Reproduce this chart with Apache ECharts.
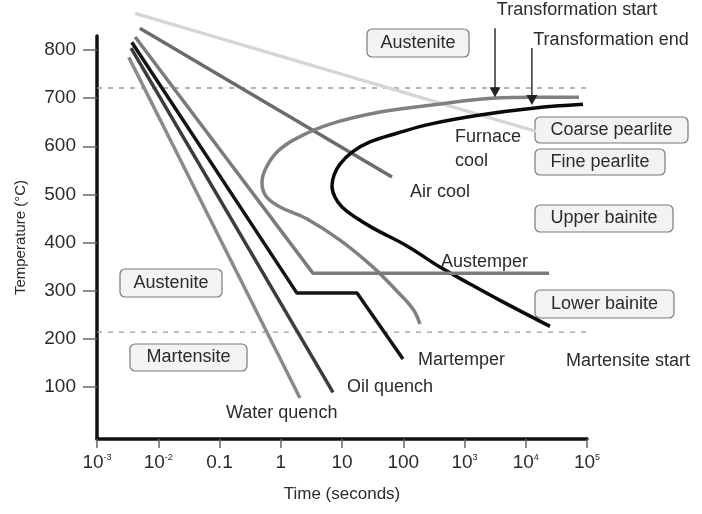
<!DOCTYPE html>
<html lang="en">
<head>
<meta charset="UTF-8">
<title>CCT diagram</title>
<style>
  html, body { margin: 0; padding: 0; background: #fff; }
  #main { width: 702px; height: 514px; }
</style>
</head>
<body>
<div id="main"></div>
<script src="https://cdn.jsdelivr.net/npm/echarts@6/dist/echarts.min.js"></script>
<script>
// [time (s), temperature (°C)]
var furnaceCool = [[0.0042, 876], [14700, 631]];
var airCool = [[0.0050, 845], [65.5, 536]];
var austemper = [[0.0042, 827], [3.37, 336], [24000, 336]];
var martemper = [[0.0037, 816], [1.84, 295], [17.6, 295], [99, 158]];
var oilQuench = [[0.0036, 804], [7.13, 89]];
var waterQuench = [[0.0033, 785], [2.06, 77]];

// transformation start / end C-curves
var transStart = [[74000, 702], [13100, 702], [3150, 700], [274, 685], [41.7, 671], [6.37, 646],
    [1.84, 617], [0.902, 590], [0.574, 555], [0.494, 525], [0.574, 496], [0.973, 474],
    [2.69, 449], [9.27, 405], [32.1, 349], [79.1, 299], [144, 262], [187, 231]];
var transEnd = [[86000, 687], [13100, 679], [1790, 665], [274, 646], [79.1, 627], [28.6, 609],
    [14.6, 588], [9.27, 563], [7.40, 540], [6.87, 517], [7.69, 494], [10.0, 474],
    [16.3, 453], [32.1, 430], [115, 393], [398, 349], [1230, 314], [3800, 280], [24900, 226]];

var eutectoidLine = [[0.001, 721], [100000, 721]];
var msLine = [[0.001, 214], [100000, 214]];
var arrowStart = [[3150, 845], [3150, 706]];
var arrowEnd = [[12600, 804], [12600, 690]];

var xTickLabels = ['10^-3', '10^-2', '0.1', '1', '10', '100', '10^3', '10^4', '10^5'];
var yTickValues = [100, 200, 300, 400, 500, 600, 700, 800];

var FONT = '"Liberation Sans", Arial, sans-serif';
var TXT = '#2b2b2b';

function curve(name, data, color, smooth) {
    return {
        name: name,
        type: 'line',
        data: data,
        symbol: 'none',
        clip: false,
        silent: true,
        smooth: smooth || false,
        lineStyle: { color: color, width: 3.5 }
    };
}

function dashed(data) {
    return {
        type: 'line',
        data: data,
        symbol: 'none',
        silent: true,
        lineStyle: { color: '#9a9a9a', width: 1.3, type: [5, 6] }
    };
}

function arrow(pts) {
    return {
        type: 'line',
        clip: false,
        silent: true,
        showSymbol: true,
        data: [
            { value: pts[0], symbol: 'none' },
            { value: pts[1], symbol: 'triangle', symbolRotate: 180, symbolSize: [11, 10], symbolOffset: [0, -3] }
        ],
        itemStyle: { color: '#222' },
        lineStyle: { color: '#333', width: 1.5 }
    };
}

function label(text, x, y, align) {
    return {
        type: 'text', x: x, y: y, z: 100,
        style: { text: text, fill: TXT, font: '18px ' + FONT, align: align || 'left', verticalAlign: 'middle' }
    };
}

function box(text, x, y, w, h) {
    return {
        type: 'group', z: 100,
        children: [
            { type: 'rect', shape: { x: x, y: y, width: w, height: h, r: 5 },
              style: { fill: '#f3f3f3', stroke: '#7a7a7a', lineWidth: 1.2 } },
            { type: 'text', x: x + w / 2, y: y + h / 2,
              style: { text: text, fill: TXT, font: '18px ' + FONT, align: 'center', verticalAlign: 'middle' } }
        ]
    };
}

var option = {
    backgroundColor: '#fff',
    animation: false,
    grid: { left: 97, right: 115, top: 36, bottom: 75 },
    xAxis: {
        type: 'log',
        logBase: 10,
        min: 0.001,
        max: 100000,
        name: 'Time (seconds)',
        nameLocation: 'middle',
        nameGap: 47,
        nameTextStyle: { fontFamily: FONT, fontSize: 17, color: TXT },
        axisLine: { onZero: false, lineStyle: { color: '#111', width: 3.5 } },
        axisTick: { length: 9, lineStyle: { color: '#666', width: 1.5 } },
        splitLine: { show: false },
        minorTick: { show: false },
        axisLabel: {
            margin: 14,
            formatter: function (v) {
                var s = xTickLabels[Math.round(Math.log10(v)) + 3];
                if (s.indexOf('^') > 0) {
                    var p = s.split('^');
                    return '{b|' + p[0] + '}{e|' + p[1] + '}';
                }
                return '{b|' + s + '}';
            },
            rich: {
                b: { fontFamily: FONT, fontSize: 19, color: TXT },
                e: { fontFamily: FONT, fontSize: 9, color: TXT, verticalAlign: 'top' }
            }
        }
    },
    yAxis: {
        type: 'value',
        min: -8,
        max: 829,
        name: 'Temperature (°C)',
        nameLocation: 'middle',
        nameGap: 69,
        nameTextStyle: { fontFamily: FONT, fontSize: 15, color: TXT },
        axisLine: { show: true, lineStyle: { color: '#111', width: 3.5 } },
        axisTick: { show: true, length: 14, customValues: yTickValues, lineStyle: { color: '#666', width: 1.5 } },
        axisLabel: { customValues: yTickValues, margin: 21, fontFamily: FONT, fontSize: 19, color: TXT },
        splitLine: { show: false }
    },
    series: [
        dashed(eutectoidLine),
        dashed(msLine),
        curve('Furnace cool', furnaceCool, '#d6d6d6'),
        curve('Air cool', airCool, '#6b6b6b'),
        curve('Transformation start', transStart, '#808080', 0.4),
        curve('Transformation end', transEnd, '#0a0a0a', 0.4),
        curve('Austemper', austemper, '#7b7b7b'),
        curve('Water quench', waterQuench, '#8a8a8a'),
        curve('Oil quench', oilQuench, '#3c3c3c'),
        curve('Martemper', martemper, '#141414'),
        arrow(arrowStart),
        arrow(arrowEnd)
    ],
    graphic: [
        label('Transformation start', 577, 10, 'center'),
        label('Transformation end', 611, 40, 'center'),
        label('Furnace', 455, 137),
        label('cool', 455, 161),
        label('Air cool', 410, 192),
        label('Austemper', 441, 262),
        label('Martemper', 418, 360),
        label('Martensite start', 566, 361),
        label('Oil quench', 347, 387),
        label('Water quench', 226, 413),
        box('Austenite', 367, 29, 102, 28),
        box('Coarse pearlite', 535, 117, 153, 26),
        box('Fine pearlite', 535, 149, 130, 26),
        box('Upper bainite', 535, 205, 138, 27),
        box('Lower bainite', 535, 290, 139, 28),
        box('Austenite', 120, 269, 102, 28),
        box('Martensite', 130, 344, 117, 27)
    ]
};

var myChart = echarts.init(document.getElementById('main'));
myChart.setOption(option);
</script>
</body>
</html>
